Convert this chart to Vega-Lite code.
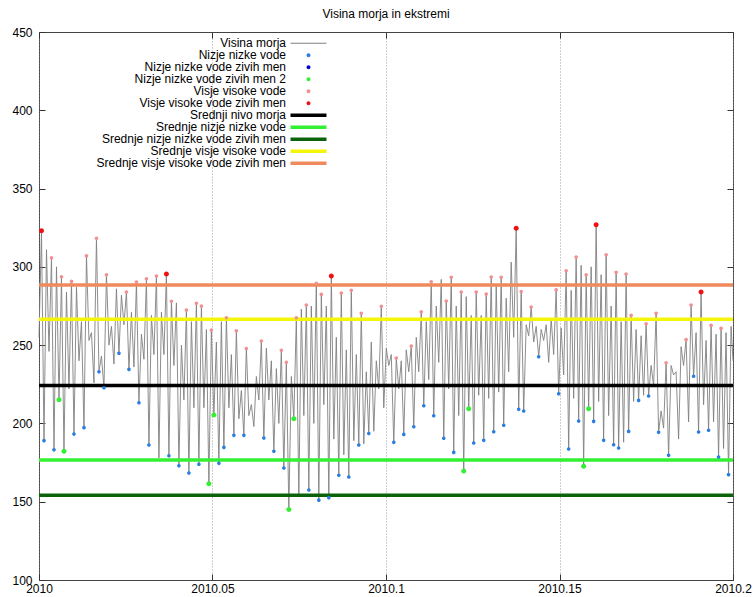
{
"$schema":"https://vega.github.io/schema/vega-lite/v6.json",
"width":694,"height":548,
"autosize":"none",
"padding":{"left":39,"top":32,"right":20,"bottom":17},
"title":{"text":"Visina morja in ekstremi","font":"Liberation Sans","fontSize":12,"fontWeight":"normal","anchor":"middle","offset":-4,"baseline":"alphabetic","color":"#000"},
"config":{
"view":{"stroke":"#444","strokeWidth":1},
"axis":{"labelFont":"Liberation Sans","labelFontSize":12,"labelColor":"#000","tickColor":"#333","domain":false,"tickSize":-6,"title":null,"labelFlush":false},
"legend":{"orient":"none","legendX":263.5,"legendY":5.3,"padding":0,"rowPadding":-2.1,"symbolSize":121,"labelAlign":"right","labelOffset":-28.5,"labelFont":"Liberation Sans","labelFontSize":12,"labelColor":"#000","labelLimit":0,"direction":"vertical","columns":1,"symbolStrokeWidth":0}
},
"datasets":{
"means":[
{"series":"Srednji nivo morja","h":224.2},
{"series":"Srednje nizje nizke vode","h":176.6},
{"series":"Srednje nizje nizke vode zivih men","h":154.2},
{"series":"Srednje visje visoke vode","h":266.5},
{"series":"Srednje visje visoke vode zivih men","h":288.4}
],
"tide":[
{"t":2010,"h":255},
{"t":2010.00072,"h":323,"m":"Visje visoke vode zivih men"},
{"t":2010.00144,"h":189,"m":"Nizje nizke vode"},
{"t":2010.00216,"h":311},
{"t":2010.00288,"h":246},
{"t":2010.0036,"h":305.8,"m":"Visje visoke vode"},
{"t":2010.00432,"h":183.2,"m":"Nizje nizke vode"},
{"t":2010.00504,"h":300},
{"t":2010.00576,"h":215.1,"m":"Nizje nizke vode zivih men 2"},
{"t":2010.00648,"h":293.7,"m":"Visje visoke vode"},
{"t":2010.0072,"h":182.2,"m":"Nizje nizke vode zivih men 2"},
{"t":2010.00792,"h":284},
{"t":2010.00864,"h":222},
{"t":2010.00936,"h":290.7,"m":"Visje visoke vode"},
{"t":2010.01008,"h":193.2,"m":"Nizje nizke vode"},
{"t":2010.0108,"h":287},
{"t":2010.01152,"h":240},
{"t":2010.01224,"h":265},
{"t":2010.01296,"h":197.3,"m":"Nizje nizke vode"},
{"t":2010.01368,"h":307,"m":"Visje visoke vode"},
{"t":2010.0144,"h":253},
{"t":2010.01512,"h":258},
{"t":2010.01584,"h":226},
{"t":2010.01656,"h":318.2,"m":"Visje visoke vode"},
{"t":2010.01728,"h":233,"m":"Nizje nizke vode"},
{"t":2010.018,"h":243},
{"t":2010.01872,"h":222.8,"m":"Nizje nizke vode"},
{"t":2010.01944,"h":295,"m":"Visje visoke vode"},
{"t":2010.02016,"h":250},
{"t":2010.02088,"h":262},
{"t":2010.0216,"h":238},
{"t":2010.02232,"h":286},
{"t":2010.02304,"h":244.8,"m":"Nizje nizke vode"},
{"t":2010.02376,"h":282},
{"t":2010.02448,"h":263},
{"t":2010.0252,"h":283.9,"m":"Visje visoke vode"},
{"t":2010.02592,"h":234.5,"m":"Nizje nizke vode"},
{"t":2010.02664,"h":271},
{"t":2010.02736,"h":236},
{"t":2010.02808,"h":290.3,"m":"Visje visoke vode"},
{"t":2010.0288,"h":213.2,"m":"Nizje nizke vode"},
{"t":2010.02952,"h":257},
{"t":2010.03024,"h":241},
{"t":2010.03096,"h":292.4,"m":"Visje visoke vode"},
{"t":2010.03168,"h":186.2,"m":"Nizje nizke vode"},
{"t":2010.0324,"h":269},
{"t":2010.03312,"h":244},
{"t":2010.03384,"h":294.1,"m":"Visje visoke vode"},
{"t":2010.03456,"h":178},
{"t":2010.03528,"h":271},
{"t":2010.036,"h":244},
{"t":2010.03672,"h":295.4,"m":"Visje visoke vode zivih men"},
{"t":2010.03744,"h":179.4,"m":"Nizje nizke vode"},
{"t":2010.03816,"h":278,"m":"Visje visoke vode"},
{"t":2010.03888,"h":237},
{"t":2010.0396,"h":277},
{"t":2010.04032,"h":173,"m":"Nizje nizke vode"},
{"t":2010.04104,"h":250},
{"t":2010.04176,"h":215},
{"t":2010.04248,"h":272.4,"m":"Visje visoke vode"},
{"t":2010.0432,"h":168.3,"m":"Nizje nizke vode"},
{"t":2010.04392,"h":265},
{"t":2010.04464,"h":210},
{"t":2010.04536,"h":276.7,"m":"Visje visoke vode"},
{"t":2010.04608,"h":173.9,"m":"Nizje nizke vode"},
{"t":2010.0468,"h":275,"m":"Visje visoke vode"},
{"t":2010.04752,"h":210},
{"t":2010.04824,"h":260},
{"t":2010.04896,"h":161.5,"m":"Nizje nizke vode zivih men 2"},
{"t":2010.04968,"h":259.6,"m":"Visje visoke vode"},
{"t":2010.0504,"h":205.4,"m":"Nizje nizke vode zivih men 2"},
{"t":2010.05112,"h":252},
{"t":2010.05184,"h":174.5,"m":"Nizje nizke vode"},
{"t":2010.05256,"h":265},
{"t":2010.05328,"h":184.7,"m":"Nizje nizke vode"},
{"t":2010.054,"h":267.5,"m":"Visje visoke vode"},
{"t":2010.05472,"h":210},
{"t":2010.05544,"h":244},
{"t":2010.05616,"h":192.4,"m":"Nizje nizke vode"},
{"t":2010.05688,"h":259.2,"m":"Visje visoke vode"},
{"t":2010.0576,"h":203},
{"t":2010.05832,"h":221},
{"t":2010.05904,"h":192.4,"m":"Nizje nizke vode"},
{"t":2010.05976,"h":247.9,"m":"Visje visoke vode"},
{"t":2010.06048,"h":205},
{"t":2010.0612,"h":212},
{"t":2010.06192,"h":198},
{"t":2010.06264,"h":230},
{"t":2010.06336,"h":215},
{"t":2010.06408,"h":252.6,"m":"Visje visoke vode"},
{"t":2010.0648,"h":190.7,"m":"Nizje nizke vode"},
{"t":2010.06552,"h":248},
{"t":2010.06624,"h":215},
{"t":2010.06696,"h":240},
{"t":2010.06768,"h":182.2,"m":"Nizje nizke vode"},
{"t":2010.0684,"h":235},
{"t":2010.06912,"h":200},
{"t":2010.06984,"h":246.7,"m":"Visje visoke vode"},
{"t":2010.07056,"h":171.5,"m":"Nizje nizke vode"},
{"t":2010.07128,"h":239,"m":"Visje visoke vode"},
{"t":2010.072,"h":145.1,"m":"Nizje nizke vode zivih men 2"},
{"t":2010.07272,"h":230},
{"t":2010.07344,"h":203,"m":"Nizje nizke vode zivih men 2"},
{"t":2010.07416,"h":267.5,"m":"Visje visoke vode"},
{"t":2010.07488,"h":153},
{"t":2010.0756,"h":273},
{"t":2010.07632,"h":205},
{"t":2010.07704,"h":275.6,"m":"Visje visoke vode"},
{"t":2010.07776,"h":157.5,"m":"Nizje nizke vode"},
{"t":2010.07848,"h":275},
{"t":2010.0792,"h":200},
{"t":2010.07992,"h":289.5,"m":"Visje visoke vode"},
{"t":2010.08064,"h":151,"m":"Nizje nizke vode"},
{"t":2010.08136,"h":282.4,"m":"Visje visoke vode"},
{"t":2010.08208,"h":212},
{"t":2010.0828,"h":275},
{"t":2010.08352,"h":152.6,"m":"Nizje nizke vode"},
{"t":2010.08424,"h":294.1,"m":"Visje visoke vode zivih men"},
{"t":2010.08496,"h":190},
{"t":2010.08568,"h":255},
{"t":2010.0864,"h":166.9,"m":"Nizje nizke vode"},
{"t":2010.08712,"h":283.3,"m":"Visje visoke vode"},
{"t":2010.08784,"h":180},
{"t":2010.08856,"h":247},
{"t":2010.08928,"h":165.8,"m":"Nizje nizke vode"},
{"t":2010.09,"h":285,"m":"Visje visoke vode"},
{"t":2010.09072,"h":189},
{"t":2010.09144,"h":244},
{"t":2010.09216,"h":186.2,"m":"Nizje nizke vode"},
{"t":2010.09288,"h":270.3,"m":"Visje visoke vode"},
{"t":2010.0936,"h":187},
{"t":2010.09432,"h":233},
{"t":2010.09504,"h":193.6,"m":"Nizje nizke vode"},
{"t":2010.09576,"h":252},
{"t":2010.09648,"h":195},
{"t":2010.0972,"h":240},
{"t":2010.09792,"h":222},
{"t":2010.09864,"h":274.8,"m":"Visje visoke vode"},
{"t":2010.09936,"h":210},
{"t":2010.10008,"h":248},
{"t":2010.1008,"h":237},
{"t":2010.10152,"h":244},
{"t":2010.10224,"h":187.9,"m":"Nizje nizke vode"},
{"t":2010.10296,"h":241.8,"m":"Visje visoke vode"},
{"t":2010.10368,"h":222},
{"t":2010.1044,"h":240},
{"t":2010.10512,"h":193,"m":"Nizje nizke vode"},
{"t":2010.10584,"h":247},
{"t":2010.10656,"h":233},
{"t":2010.10728,"h":249.4,"m":"Visje visoke vode"},
{"t":2010.108,"h":197.9,"m":"Nizje nizke vode"},
{"t":2010.10872,"h":255},
{"t":2010.10944,"h":233},
{"t":2010.11016,"h":271.3,"m":"Visje visoke vode"},
{"t":2010.11088,"h":211.3,"m":"Nizje nizke vode"},
{"t":2010.1116,"h":265},
{"t":2010.11232,"h":228},
{"t":2010.11304,"h":290.5,"m":"Visje visoke vode"},
{"t":2010.11376,"h":204.9,"m":"Nizje nizke vode"},
{"t":2010.11448,"h":275},
{"t":2010.1152,"h":239},
{"t":2010.11592,"h":292},
{"t":2010.11664,"h":190.5,"m":"Nizje nizke vode"},
{"t":2010.11736,"h":278.2,"m":"Visje visoke vode"},
{"t":2010.11808,"h":222},
{"t":2010.1188,"h":293.3,"m":"Visje visoke vode"},
{"t":2010.11952,"h":181.5,"m":"Nizje nizke vode"},
{"t":2010.12024,"h":275},
{"t":2010.12096,"h":205},
{"t":2010.12168,"h":283.9,"m":"Visje visoke vode"},
{"t":2010.1224,"h":169.6,"m":"Nizje nizke vode zivih men 2"},
{"t":2010.12312,"h":281},
{"t":2010.12384,"h":209.4,"m":"Nizje nizke vode zivih men 2"},
{"t":2010.12456,"h":269},
{"t":2010.12528,"h":187.5,"m":"Nizje nizke vode"},
{"t":2010.126,"h":283.9,"m":"Visje visoke vode"},
{"t":2010.12672,"h":218},
{"t":2010.12744,"h":269},
{"t":2010.12816,"h":189.2,"m":"Nizje nizke vode"},
{"t":2010.12888,"h":282.6,"m":"Visje visoke vode"},
{"t":2010.1296,"h":216},
{"t":2010.13032,"h":293.5,"m":"Visje visoke vode"},
{"t":2010.13104,"h":194.7,"m":"Nizje nizke vode"},
{"t":2010.13176,"h":288},
{"t":2010.13248,"h":220},
{"t":2010.1332,"h":293.3,"m":"Visje visoke vode"},
{"t":2010.13392,"h":198.8,"m":"Nizje nizke vode"},
{"t":2010.13464,"h":280},
{"t":2010.13536,"h":233},
{"t":2010.13608,"h":303},
{"t":2010.1368,"h":255},
{"t":2010.13752,"h":324.6,"m":"Visje visoke vode zivih men"},
{"t":2010.13824,"h":209,"m":"Nizje nizke vode"},
{"t":2010.13896,"h":284.3,"m":"Visje visoke vode"},
{"t":2010.13968,"h":207.9,"m":"Nizje nizke vode"},
{"t":2010.1404,"h":263},
{"t":2010.14112,"h":256},
{"t":2010.14184,"h":274.3,"m":"Visje visoke vode"},
{"t":2010.14256,"h":252},
{"t":2010.14328,"h":262},
{"t":2010.144,"h":242.6,"m":"Nizje nizke vode"},
{"t":2010.14472,"h":260},
{"t":2010.14544,"h":253},
{"t":2010.14616,"h":263},
{"t":2010.14688,"h":239},
{"t":2010.1476,"h":267},
{"t":2010.14832,"h":244},
{"t":2010.14904,"h":285.4,"m":"Visje visoke vode"},
{"t":2010.14976,"h":219,"m":"Nizje nizke vode"},
{"t":2010.15048,"h":261},
{"t":2010.1512,"h":231},
{"t":2010.15192,"h":297.5,"m":"Visje visoke vode"},
{"t":2010.15264,"h":183.7,"m":"Nizje nizke vode"},
{"t":2010.15336,"h":285},
{"t":2010.15408,"h":216},
{"t":2010.1548,"h":306.3,"m":"Visje visoke vode"},
{"t":2010.15552,"h":201.5,"m":"Nizje nizke vode"},
{"t":2010.15624,"h":301},
{"t":2010.15696,"h":172.6,"m":"Nizje nizke vode zivih men 2"},
{"t":2010.15768,"h":295,"m":"Visje visoke vode"},
{"t":2010.1584,"h":209.4,"m":"Nizje nizke vode zivih men 2"},
{"t":2010.15912,"h":300},
{"t":2010.15984,"h":201.3,"m":"Nizje nizke vode"},
{"t":2010.16056,"h":326.9,"m":"Visje visoke vode zivih men"},
{"t":2010.16128,"h":214},
{"t":2010.162,"h":295},
{"t":2010.16272,"h":189.2,"m":"Nizje nizke vode"},
{"t":2010.16344,"h":307.7,"m":"Visje visoke vode"},
{"t":2010.16416,"h":205},
{"t":2010.16488,"h":275},
{"t":2010.1656,"h":186.4,"m":"Nizje nizke vode"},
{"t":2010.16632,"h":296.5,"m":"Visje visoke vode"},
{"t":2010.16704,"h":184.3,"m":"Nizje nizke vode"},
{"t":2010.16776,"h":265},
{"t":2010.16848,"h":188},
{"t":2010.1692,"h":295.4,"m":"Visje visoke vode"},
{"t":2010.16992,"h":194.9,"m":"Nizje nizke vode"},
{"t":2010.17064,"h":269,"m":"Visje visoke vode"},
{"t":2010.17136,"h":214},
{"t":2010.17208,"h":260},
{"t":2010.1728,"h":214.7,"m":"Nizje nizke vode"},
{"t":2010.17352,"h":256},
{"t":2010.17424,"h":218},
{"t":2010.17496,"h":263.7,"m":"Visje visoke vode"},
{"t":2010.17568,"h":217.5,"m":"Nizje nizke vode"},
{"t":2010.1764,"h":237},
{"t":2010.17712,"h":224},
{"t":2010.17784,"h":270.3,"m":"Visje visoke vode"},
{"t":2010.17856,"h":194.3,"m":"Nizje nizke vode"},
{"t":2010.17928,"h":208},
{"t":2010.18,"h":197},
{"t":2010.18072,"h":238.8,"m":"Visje visoke vode"},
{"t":2010.18144,"h":179.6,"m":"Nizje nizke vode"},
{"t":2010.18216,"h":237},
{"t":2010.18288,"h":231},
{"t":2010.1836,"h":233},
{"t":2010.18432,"h":190},
{"t":2010.18504,"h":249},
{"t":2010.18576,"h":237},
{"t":2010.18648,"h":253.5,"m":"Visje visoke vode"},
{"t":2010.1872,"h":201},
{"t":2010.18792,"h":275.6,"m":"Visje visoke vode"},
{"t":2010.18864,"h":230.1,"m":"Nizje nizke vode"},
{"t":2010.18936,"h":258},
{"t":2010.19008,"h":194.5,"m":"Nizje nizke vode"},
{"t":2010.1908,"h":283.9,"m":"Visje visoke vode zivih men"},
{"t":2010.19152,"h":212},
{"t":2010.19224,"h":253},
{"t":2010.19296,"h":195.6,"m":"Nizje nizke vode"},
{"t":2010.19368,"h":262.6,"m":"Visje visoke vode"},
{"t":2010.1944,"h":201},
{"t":2010.19512,"h":257},
{"t":2010.19584,"h":178.5,"m":"Nizje nizke vode"},
{"t":2010.19656,"h":260.7,"m":"Visje visoke vode"},
{"t":2010.19728,"h":184},
{"t":2010.198,"h":258},
{"t":2010.19872,"h":167.3,"m":"Nizje nizke vode"},
{"t":2010.19944,"h":262},
{"t":2010.2,"h":240}
]
},
"layer":[
{
"data":{"name":"tide"},
"mark":{"type":"line","strokeWidth":0.9,"interpolate":"linear"},
"encoding":{
"x":{"field":"t","type":"quantitative","scale":{"domain":[2010,2010.2],"nice":false,"zero":false},"axis":{"orient":"bottom","values":[2010,2010.05,2010.1,2010.15,2010.2],"format":"~r","grid":true,"gridDash":[1,2],"gridColor":"#888","gridWidth":0.8,"labelPadding":9}},
"y":{"field":"h","type":"quantitative","scale":{"domain":[100,450],"nice":false,"zero":false},"axis":{"orient":"left","values":[100,150,200,250,300,350,400,450],"format":"d","grid":false,"labelPadding":13}},
"color":{"datum":"Visina morja","type":"nominal","legend":{"title":null,"encode":{"symbols":{"update":{"fill":{"scale":"color","field":"value"},"stroke":{"value":"transparent"},"shape":{"scale":"shape","field":"value"},"opacity":{"value":1}}}}},
"scale":{"domain":["Visina morja","Nizje nizke vode","Nizje nizke vode zivih men","Nizje nizke vode zivih men 2","Visje visoke vode","Visje visoke vode zivih men","Srednji nivo morja","Srednje nizje nizke vode","Srednje nizje nizke vode zivih men","Srednje visje visoke vode","Srednje visje visoke vode zivih men"],
"range":["#808080","#2a7de1","#0000cc","#33ee33","#f09090","#ee1111","#000000","#33f033","#0a620a","#f5f50a","#f08a5d"]}}
}
},
{
"data":{"name":"means"},
"mark":{"type":"rule","strokeWidth":3.5},
"encoding":{
"y":{"field":"h","type":"quantitative","axis":null},
"color":{"field":"series","type":"nominal","legend":{"title":null,"encode":{"symbols":{"update":{"fill":{"scale":"color","field":"value"},"stroke":{"value":"transparent"},"shape":{"scale":"shape","field":"value"},"opacity":{"value":1}}}}}}
}
},
{
"data":{"name":"tide"},
"transform":[{"filter":{"field":"m","oneOf":["Nizje nizke vode","Visje visoke vode"]}}],
"mark":{"type":"point","filled":true,"opacity":1,"size":100,"strokeWidth":0},
"encoding":{
"x":{"field":"t","type":"quantitative","axis":{"orient":"top","labels":false,"grid":false,"values":[2010,2010.05,2010.1,2010.15,2010.2]}},
"y":{"field":"h","type":"quantitative","axis":{"orient":"right","labels":false,"grid":false,"values":[100,150,200,250,300,350,400,450]}},
"color":{"field":"m","type":"nominal","legend":{"title":null,"encode":{"symbols":{"update":{"fill":{"scale":"color","field":"value"},"stroke":{"value":"transparent"},"shape":{"scale":"shape","field":"value"},"opacity":{"value":1}}}}}},
"shape":{"field":"m","type":"nominal","legend":{"title":null,"encode":{"symbols":{"update":{"fill":{"scale":"color","field":"value"},"stroke":{"value":"transparent"},"shape":{"scale":"shape","field":"value"},"opacity":{"value":1}}}}},
"scale":{"domain":["Visina morja","Nizje nizke vode","Nizje nizke vode zivih men","Nizje nizke vode zivih men 2","Visje visoke vode","Visje visoke vode zivih men","Srednji nivo morja","Srednje nizje nizke vode","Srednje nizje nizke vode zivih men","Srednje visje visoke vode","Srednje visje visoke vode zivih men"],
"range":["M-3.27,-0.09H3.27V0.09H-3.27Z","M0.36,0A0.36,0.36,0,1,1,-0.36,0A0.36,0.36,0,1,1,0.36,0Z","M0.36,0A0.36,0.36,0,1,1,-0.36,0A0.36,0.36,0,1,1,0.36,0Z","M0.36,0A0.36,0.36,0,1,1,-0.36,0A0.36,0.36,0,1,1,0.36,0Z","M0.36,0A0.36,0.36,0,1,1,-0.36,0A0.36,0.36,0,1,1,0.36,0Z","M0.36,0A0.36,0.36,0,1,1,-0.36,0A0.36,0.36,0,1,1,0.36,0Z","M-3.27,-0.33H3.27V0.33H-3.27Z","M-3.27,-0.33H3.27V0.33H-3.27Z","M-3.27,-0.33H3.27V0.33H-3.27Z","M-3.27,-0.33H3.27V0.33H-3.27Z","M-3.27,-0.33H3.27V0.33H-3.27Z"]}}
}
},
{
"data":{"name":"tide"},
"transform":[{"filter":{"field":"m","oneOf":["Nizje nizke vode zivih men 2","Visje visoke vode zivih men"]}}],
"mark":{"type":"point","filled":true,"opacity":1,"size":193,"strokeWidth":0},
"encoding":{
"x":{"field":"t","type":"quantitative","axis":null},
"y":{"field":"h","type":"quantitative","axis":null},
"color":{"field":"m","type":"nominal","legend":{"title":null,"encode":{"symbols":{"update":{"fill":{"scale":"color","field":"value"},"stroke":{"value":"transparent"},"shape":{"scale":"shape","field":"value"},"opacity":{"value":1}}}}}},
"shape":{"field":"m","type":"nominal","legend":{"title":null,"encode":{"symbols":{"update":{"fill":{"scale":"color","field":"value"},"stroke":{"value":"transparent"},"shape":{"scale":"shape","field":"value"},"opacity":{"value":1}}}}}}
}
}
],
"resolve":{"axis":{"x":"independent","y":"independent"}}
}
